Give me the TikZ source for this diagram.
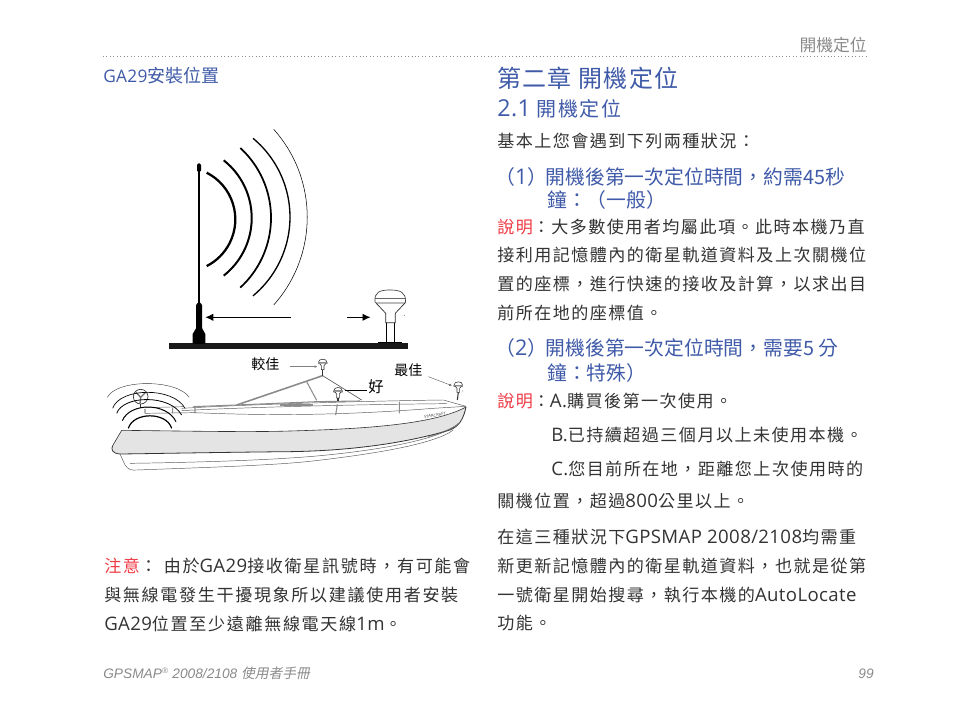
\documentclass[tikz,border=0pt]{standalone}
\usetikzlibrary{arrows.meta}
\usepackage{fontspec}
\setmainfont{Noto Sans CJK TC}
\newfontfamily\latf[Scale=1.09,LetterSpace=2]{Open Sans}
\newfontfamily\footf{Liberation Sans}
\newfontfamily\footc[FakeSlant=0.2]{Noto Sans CJK TC}
\newfontfamily\bodyc[LetterSpace=8.5]{Noto Sans CJK TC}
\newfontfamily\leftc[LetterSpace=9.7]{Noto Sans CJK TC}
\newfontfamily\titlec[LetterSpace=5.5]{Noto Sans CJK TC}
\newfontfamily\subc[LetterSpace=7.5]{Noto Sans CJK TC}
\newcommand{\la}[1]{{\latf #1}}
\definecolor{bluet}{HTML}{3F5AA8}
\definecolor{redt}{HTML}{EE3B45}
\definecolor{blackt}{HTML}{333333}
\definecolor{grayt}{HTML}{8A8A8A}
\definecolor{hullg}{HTML}{E4E4E4}
\tikzset{
 txt/.style={anchor=base west,inner sep=0pt,text=blackt},
 body/.style={txt,font=\fontsize{12.8pt}{13pt}\bodyc},
 lbody/.style={txt,font=\fontsize{12.8pt}{13pt}\leftc},
 sec/.style={txt,text=bluet,font=\fontsize{14.85pt}{15pt}\selectfont},
 lab/.style={anchor=base west,inner sep=0pt,text=black,font=\fontsize{10.5pt}{10pt}\selectfont},
 wave/.style={line width=#1,black},
 hl/.style={line width=.35pt,draw=black!65},
 hd/.style={line width=.45pt,draw=black!80},
 gl/.style={line width=.8pt,draw=black!45},
}
\begin{document}
\begin{tikzpicture}[x=.75pt,y=-.75pt]
\useasboundingbox (0,0) rectangle (954,727);
% page furniture
\node[txt,anchor=base east,text=grayt,font=\fontsize{12.6pt}{13pt}\selectfont] (hdr) at (867,52) {開機定位};
\coordinate (rl) at (103,56); \coordinate (rr) at (867,56);
\draw[black!45,line width=.6pt,dotted] (rl) -- (rr);
\node[txt,text=bluet,font=\fontsize{13.5pt}{13pt}\selectfont] (ga) at (103,83) {{\fontsize{11.9pt}{13pt}\latf GA29}安裝位置};
% antenna diagram
\fill[black!90] (169,343) rectangle (407.7,349);
\draw[black,line width=1.4pt] (199,170) -- (199,305);
\fill[black,rounded corners=1pt] (197,163.5) rectangle (201,172);
\fill[black] (196.2,305) -- (197.5,303) -- (200.5,303) -- (202,305) -- (202,328) -- (205.3,334) -- (205.3,344) -- (192.7,344) -- (192.7,334) -- (196.2,328) -- cycle;
\draw[wave=1.7pt] (206.7,172.7) arc[start angle=63,end angle=-63,radius=39.3pt];
\draw[wave=1.5pt] (223.7,160.3) arc[start angle=51.8,end angle=-51.8,radius=55.05pt];
\draw[wave=1.3pt] (240.3,148) arc[start angle=47.5,end angle=-47.5,radius=71pt];
\draw[wave=1pt] (253,138.3) arc[start angle=50.3,end angle=-50.3,radius=76.8pt];
\draw[wave=.4pt] (273.7,129.3) arc[start angle=41.8,end angle=-41.8,radius=98.85pt];
\coordinate (a1s) at (291,317.3); \coordinate (a1e) at (205.3,317.3);
\coordinate (a2s) at (347,317.3); \coordinate (a2e) at (370.5,317.3);
\draw[black,line width=.7pt,-{Latex[length=6pt,width=5.5pt]}] (a1s) -- (a1e);
\draw[black,line width=.7pt,-{Latex[length=6pt,width=5.5pt]}] (a2s) -- (a2e);
% GPS dome
\draw[black!75,line width=.5pt,fill=white] (375,302) .. controls (374,292) and (380,290) .. (390,290) .. controls (400,290) and (406,292) .. (405.5,302) -- (405,303) -- (376,303) -- cycle;
\draw[black!60,line width=.5pt] (375,298) -- (405.5,298);
\draw[black!85,line width=.5pt] (376,303) -- (385.7,313.3) -- (385.7,322.7) -- (395.3,322.7) -- (395.3,313.3) -- (405,303);
\draw[black,line width=.6pt] (386.7,322.7) -- (386.7,343) (394.3,322.7) -- (394.3,343);
\draw[black,line width=.8pt] (378.3,342.5) -- (401.7,342.5);
\fill[black] (404.3,315.3) circle (.4);
% boat, in 3x crop coordinates
\begin{scope}[shift={(100,345)},x=.25pt,y=-.25pt]
 \fill[hullg] (65,256) .. controls (250,258) and (450,262) .. (570,258) .. controls (780,252) and (1000,240) .. (1098,186) .. controls (1090,225) and (1075,245) .. (1050,255) .. controls (880,305) and (700,318) .. (570,320) .. controls (350,322) and (150,326) .. (60,327) .. controls (35,325) and (33,312) .. (38,302) -- cycle;
 \draw[hd] (38,302) -- (65,256) .. controls (250,258) and (450,262) .. (570,258) .. controls (780,252) and (1000,240) .. (1098,186);
 \draw[line width=.6pt,black!80] (38,302) .. controls (33,312) and (35,325) .. (60,327) .. controls (150,326) and (350,322) .. (570,320) .. controls (700,318) and (880,305) .. (1050,255) .. controls (1075,245) and (1090,225) .. (1098,186);
 \draw[hl] (60,327) -- (75,360) .. controls (85,375) and (95,376) .. (110,375) .. controls (300,368) and (500,362) .. (620,350) .. controls (800,330) and (1000,300) .. (1060,255);
 \draw[hl] (90,355) .. controls (300,352) and (550,345) .. (700,328) .. controls (850,312) and (1000,285) .. (1065,245);
 \draw[hl] (985,275) .. controls (1020,265) and (1060,250) .. (1075,235);
 % deck and rails
 \draw[hl] (135,205) -- (285,203) .. controls (500,212) and (720,212) .. (1000,190) -- (1098,184);
 \draw[hl] (245,190) .. controls (450,178) and (800,168) .. (1030,165) -- (1098,184);
 \draw[hl] (245,197) .. controls (450,186) and (800,178) .. (1040,176);
 \draw[gl] (280,185) -- (410,180) -- (650,170) -- (780,168);
 \draw[gl] (540,180) -- (640,180);
 \draw[hl] (135,188) -- (250,185);
 \draw[gl] (285,183) -- (285,205) (135,192) -- (135,205) (218,188) -- (218,205) (712,178) -- (707,210) (898,170) -- (898,205);
 % windscreen
 \draw[gl,line width=1.2pt] (410,180) -- (668,92);
 \draw[hl,line width=.5pt] (668,92) -- (785,165);
 \draw[gl] (620,110) -- (650,166);
 % antennas on boat
 \foreach \cx/\cy/\nm in {668/50/aa,714/135/ab,1075/118/ac}{
  \draw[hd,fill=white] (\cx-13,\cy+3) .. controls (\cx-14,\cy-11) and (\cx+14,\cy-11) .. (\cx+13,\cy+3) -- (\cx+13,\cy+6) -- (\cx-13,\cy+6) -- cycle;
  \fill[black!45] (\cx-13,\cy+1) rectangle (\cx+13,\cy+6);
  \draw[hd,fill=white] (\cx-9,\cy+6) -- (\cx-4,\cy+12) -- (\cx-4,\cy+24) -- (\cx+4,\cy+24) -- (\cx+4,\cy+12) -- (\cx+9,\cy+6);
  \coordinate (\nm) at (\cx,\cy);
 }
 \draw[hd,line width=.8pt] (668,74) -- (668,92);
 \draw[hd,line width=.8pt] (714,159) -- (714,168);
 \draw[hd,line width=.8pt] (1075,142) -- (1072,165);
 \fill[black] (1088,138) circle (1);
 % radar and waves
 \draw[line width=.5pt,black!80,fill=white] (122,155) circle (22);
 \draw[line width=1pt,black!55] (108,142) -- (122,157) -- (137,142) (122,157) -- (120,176);
 \draw[hd] (122,177) -- (122,190);
 \draw[line width=.9pt,black] (85,250) .. controls (100,200) and (200,200) .. (215,250);
 \draw[line width=.75pt,black] (67,227) .. controls (90,172) and (200,172) .. (228,230);
 \draw[line width=.6pt,black] (50,205) .. controls (70,150) and (210,148) .. (245,210);
 \draw[line width=.5pt,black] (38,190) .. controls (60,127) and (220,125) .. (255,190);
 \draw[line width=.3pt,black!80] (22,157) .. controls (50,102) and (230,102) .. (268,157);
 % leaders
 \coordinate (l1) at (570,65); \coordinate (l2) at (652,65);
 \draw[black!50,line width=.4pt,-{Latex[length=2pt,width=2pt]}] (l1) -- (l2);
 \coordinate (l3) at (985,95); \coordinate (l4) at (1056,122);
 \draw[black!60,line width=.35pt,-{Latex[length=2pt,width=2pt]}] (l3) -- (l4);
 \coordinate (l5) at (800,135); \coordinate (l6) at (735,135);
 \draw[black,line width=.6pt] (l5) -- (l6);
 \node[rotate=10,anchor=center,inner sep=0pt,text=black!75,font=\fontsize{2.8pt}{3pt}\latf] (brand) at (1005,211) {STARCRAFT};
\end{scope}
\node[lab] (b1) at (251,370) {較佳};
\node[lab] (b2) at (394,376) {最佳};
\node[lab,font=\fontsize{11.5pt}{11pt}\selectfont] (b3) at (368,393) {好};
% left note
\node[lbody] (n1) at (104,572) {\textcolor{redt}{注意}：\hspace{5pt}由於\la{GA29}接收衛星訊號時，有可能會};
\node[lbody] (n2) at (104,601) {與無線電發生干擾現象所以建議使用者安裝};
\node[lbody] (n3) at (104,630) {\la{GA29}位置至少遠離無線電天線\la{1m}。};
% right column
\node[txt,text=bluet,font=\fontsize{18pt}{18pt}\titlec] (h1) at (497,88) {第二章 開機定位};
\node[txt,text=bluet,font=\fontsize{15pt}{15pt}\subc] (h2) at (497,117) {{\fontsize{16pt}{16pt}\latf 2.1} 開機定位};
\node[body] (p0) at (497,148) {基本上您會遇到下列兩種狀況：};
\node[sec] (s1n) at (495,185) {（\la{1}）};
\node[sec] (s1) at (545.5,185) {開機後第一次定位時間，約需45秒};
\node[sec] (s1b) at (547,208) {鐘：（一般）};
\node[body] (p1) at (497,234) {\textcolor{redt}{說明}：大多數使用者均屬此項。此時本機乃直};
\node[body] (p2) at (497,262) {接利用記憶體內的衛星軌道資料及上次關機位};
\node[body] (p3) at (497,291) {置的座標，進行快速的接收及計算，以求出目};
\node[body] (p4) at (497,320) {前所在地的座標值。};
\node[sec] (s2n) at (495,356) {（\la{2}）};
\node[sec] (s2) at (545.5,356) {開機後第一次定位時間，需要5 分};
\node[sec] (s2b) at (547,381) {鐘：特殊）};
\node[body] (q1) at (497,407) {\textcolor{redt}{說明}：\la{A.}購買後第一次使用。};
\node[body] (q2) at (551,441) {\la{B.}已持續超過三個月以上未使用本機。};
\node[body] (q3) at (551,475) {\la{C.}您目前所在地，距離您上次使用時的};
\node[body] (q4) at (497,508) {關機位置，超過\la{800}公里以上。};
\node[body] (r1) at (497,543) {在這三種狀況下\la{GPSMAP 2008/2108}均需重};
\node[body] (r2) at (497,572) {新更新記憶體內的衛星軌道資料，也就是從第};
\node[body] (r3) at (497,601) {一號衛星開始搜尋，執行本機的\la{AutoLocate}};
\node[body] (r4) at (497,629) {功能。};
% footer
\node[txt,text=grayt,font=\fontsize{10.3pt}{11pt}\footf\itshape] (f1) at (103,678) {GPSMAP\textsuperscript{\fontsize{6pt}{6pt}\selectfont ®} 2008/2108 {\footc 使用者手冊}};
\node[txt,anchor=base east,text=grayt,font=\fontsize{10.3pt}{11pt}\footf\itshape] (f2) at (874,678) {99};
\end{tikzpicture}
\end{document}
